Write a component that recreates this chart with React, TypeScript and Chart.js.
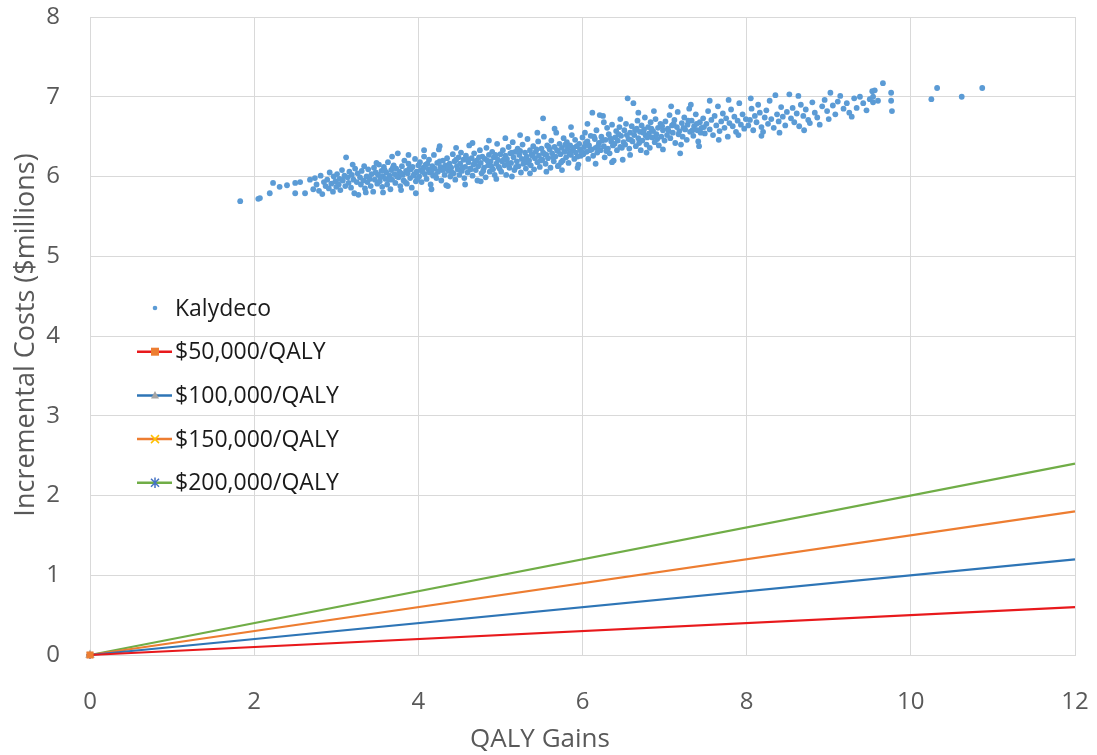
import React, { useEffect, useRef } from 'react';
import { Chart, registerables } from 'chart.js';

Chart.register(...registerables);

// ---- data ----
const xTickValues = [0, 2, 4, 6, 8, 10, 12];
const yTickValues = [0, 1, 2, 3, 4, 5, 6, 7, 8];
const xTitle = 'QALY Gains';
const yTitle = 'Incremental Costs ($millions)';
const scatterName = 'Kalydeco';
const thresholdNames = ['$50,000/QALY', '$100,000/QALY', '$150,000/QALY', '$200,000/QALY'];
const thresholdStartX = 0;
const thresholdStartY = 0;
const thresholdEndX = 12;
const thresholdEndY = [0.6, 1.2, 1.8, 2.4];

const kalydecoPoints: [number, number][] = [
  [1.83,5.69],[2.05,5.72],[2.07,5.73],[2.19,5.79],[2.23,5.92],[2.31,5.87],[2.40,5.89],[2.50,5.92],[2.56,5.93],[2.50,5.79],[2.62,5.79],[2.68,5.96],
  [2.72,5.84],[2.74,5.98],[2.76,5.90],[2.79,5.82],[2.81,6.01],[2.83,5.78],[2.85,5.93],[2.87,5.88],[2.89,5.96],[2.91,5.85],[2.92,6.05],[2.94,5.91],[2.96,5.81],[2.97,6.00],[2.99,5.94],[3.00,5.87],
  [3.01,6.03],[3.03,5.90],[3.04,5.97],[3.05,5.83],[3.07,6.08],[3.08,5.95],[3.10,6.01],[3.11,5.88],[3.12,6.24],[3.14,5.99],[3.15,5.92],[3.16,6.06],[3.18,5.86],[3.19,6.02],[3.21,5.96],[3.22,5.79],[3.23,6.10],[3.25,5.93],[3.26,6.04],[3.27,5.77],[3.29,5.99],[3.30,5.90],[3.31,6.07],[3.33,5.95],[3.34,6.13],[3.35,5.85],[3.37,6.00],[3.38,5.93],[3.39,6.09],[3.41,5.97],[3.42,5.88],[3.43,6.03],[3.45,5.81],[3.46,6.11],[3.47,5.96],[3.48,6.05],[3.50,5.91],
  [3.51,6.02],[3.52,6.15],[3.53,5.94],[3.55,6.07],[3.56,5.87],[3.57,6.00],[3.58,6.12],[3.60,5.97],[3.61,6.05],[3.62,5.90],[3.63,6.18],[3.65,6.01],[3.66,5.84],[3.67,6.08],[3.68,5.96],[3.70,6.14],[3.71,6.03],[3.72,5.92],[3.73,6.10],[3.75,6.29],[3.76,5.99],[3.77,6.06],[3.78,5.88],[3.80,6.13],[3.81,6.02],[3.82,5.95],[3.83,6.20],[3.85,6.07],[3.86,5.91],[3.87,6.04],[3.88,6.16],[3.90,5.98],[3.91,6.09],[3.92,5.86],[3.93,6.12],[3.95,6.03],[3.96,6.22],[3.97,5.94],[3.98,6.06],[4.00,6.14],
  [4.01,6.00],[4.02,6.18],[4.03,6.08],[4.04,5.93],[4.06,6.11],[4.07,6.25],[4.08,6.03],[4.09,6.15],[4.10,5.97],[4.12,6.09],[4.13,6.21],[4.14,6.05],[4.15,5.90],[4.17,6.13],[4.18,6.01],[4.19,6.27],[4.20,6.10],[4.22,5.98],[4.23,6.17],[4.24,6.06],[4.25,6.34],[4.27,6.12],[4.28,5.95],[4.29,6.08],[4.30,6.20],[4.32,6.02],[4.33,6.14],[4.34,5.89],[4.35,6.23],[4.37,6.07],[4.38,6.16],[4.39,6.00],[4.40,6.11],[4.42,6.28],[4.43,6.04],[4.44,6.19],[4.45,5.96],[4.47,6.13],[4.48,6.09],[4.49,6.24],[4.50,6.02],
  [4.51,6.16],[4.52,6.30],[4.53,6.07],[4.55,6.21],[4.56,5.98],[4.57,6.12],[4.58,6.26],[4.60,6.05],[4.61,6.18],[4.62,6.39],[4.63,6.10],[4.65,6.23],[4.66,6.01],[4.67,6.15],[4.68,6.29],[4.70,6.08],[4.71,6.20],[4.72,5.95],[4.73,6.13],[4.75,6.33],[4.76,6.17],[4.77,6.04],[4.78,6.25],[4.80,6.11],[4.81,6.22],[4.82,5.99],[4.83,6.36],[4.85,6.14],[4.86,6.27],[4.87,6.06],[4.88,6.19],[4.90,6.31],[4.91,6.09],[4.92,6.24],[4.93,6.02],[4.95,6.16],[4.96,6.41],[4.97,6.21],[4.98,6.12],[5.00,6.28],
  [5.01,6.06],[5.02,6.19],[5.03,6.33],[5.05,6.14],[5.06,6.26],[5.07,6.02],[5.08,6.22],[5.10,6.37],[5.11,6.11],[5.12,6.29],[5.13,6.17],[5.15,6.43],[5.16,6.24],[5.17,6.08],[5.18,6.31],[5.20,6.19],[5.21,6.35],[5.22,6.13],[5.23,6.27],[5.25,6.05],[5.26,6.22],[5.27,6.40],[5.28,6.16],[5.30,6.30],[5.31,6.10],[5.32,6.25],[5.33,6.47],[5.35,6.20],[5.36,6.33],[5.37,6.14],[5.38,6.28],[5.40,6.38],[5.41,6.09],[5.42,6.23],[5.43,6.31],[5.45,6.18],[5.46,6.44],[5.47,6.26],[5.48,6.12],[5.50,6.35],
  [5.51,6.21],[5.52,6.30],[5.52,6.73],[5.53,6.50],[5.55,6.16],[5.56,6.27],[5.57,6.39],[5.58,6.23],[5.60,6.34],[5.61,6.11],[5.62,6.45],[5.63,6.29],[5.65,6.19],[5.66,6.37],[5.67,6.25],[5.68,6.55],[5.70,6.32],[5.70,6.13],[5.71,6.14],[5.72,6.41],[5.73,6.28],[5.75,6.36],[5.76,6.20],[5.77,6.48],[5.78,6.31],[5.80,6.24],[5.81,6.43],[5.82,6.35],[5.83,6.17],[5.85,6.39],[5.86,6.27],[5.87,6.52],[5.88,6.33],[5.90,6.22],[5.91,6.46],[5.92,6.30],[5.93,6.38],[5.95,6.15],[5.96,6.41],[5.97,6.34],[5.98,6.26],[6.00,6.49],
  [6.01,6.28],[6.02,6.37],[6.03,6.55],[6.05,6.31],[6.06,6.44],[6.07,6.22],[6.08,6.39],[6.10,6.51],[6.11,6.34],[6.12,6.80],[6.13,6.26],[6.15,6.47],[6.16,6.36],[6.17,6.58],[6.18,6.30],[6.20,6.42],[6.21,6.77],[6.22,6.33],[6.23,6.50],[6.25,6.76],[6.26,6.38],[6.27,6.24],[6.28,6.46],[6.30,6.61],[6.31,6.35],[6.32,6.53],[6.33,6.29],[6.35,6.44],[6.36,6.65],[6.37,6.39],[6.38,6.20],[6.40,6.49],[6.41,6.57],[6.42,6.33],[6.43,6.45],[6.45,6.62],[6.46,6.37],[6.47,6.51],[6.49,6.21],[6.50,6.43],
  [6.51,6.58],[6.52,6.40],[6.53,6.66],[6.55,6.98],[6.56,6.47],[6.57,6.35],[6.58,6.55],[6.60,6.63],[6.61,6.44],[6.62,6.92],[6.63,6.52],[6.65,6.38],[6.66,6.60],[6.67,6.70],[6.68,6.48],[6.70,6.56],[6.71,6.33],[6.72,6.64],[6.73,6.45],[6.75,6.59],[6.76,6.74],[6.77,6.51],[6.78,6.40],[6.80,6.62],[6.81,6.54],[6.82,6.36],[6.83,6.68],[6.85,6.49],[6.86,6.57],[6.88,6.43],[6.89,6.72],[6.90,6.53],[6.92,6.61],[6.93,6.39],[6.95,6.66],[6.96,6.50],[6.98,6.58],[7.00,6.45],
  [7.01,6.69],[7.03,6.52],[7.04,6.60],[7.06,6.77],[7.07,6.48],[7.09,6.64],[7.10,6.55],[7.12,6.71],[7.13,6.42],[7.15,6.62],[7.16,6.81],[7.18,6.57],[7.19,6.29],[7.21,6.67],[7.22,6.50],[7.24,6.74],[7.25,6.59],[7.27,6.46],[7.28,6.65],[7.30,6.85],[7.31,6.56],[7.33,6.70],[7.35,6.51],[7.36,6.63],[7.38,6.78],[7.40,6.58],[7.41,6.44],[7.43,6.68],[7.45,6.61],[7.47,6.73],[7.49,6.54],
  [7.51,6.66],[7.53,6.82],[7.55,6.59],[7.57,6.71],[7.59,6.52],[7.61,6.76],[7.63,6.64],[7.65,6.88],[7.67,6.57],[7.69,6.69],[7.71,6.79],[7.73,6.61],[7.75,6.73],[7.77,6.50],[7.79,6.67],[7.81,6.84],[7.83,6.63],[7.85,6.75],[7.87,6.56],[7.89,6.70],[7.91,6.92],[7.93,6.65],[7.95,6.78],[7.97,6.60],[7.99,6.72],
  [8.02,6.64],[8.04,6.71],[8.06,6.85],[8.08,6.58],[8.10,6.76],[8.12,6.68],[8.14,6.90],[8.16,6.80],[8.18,6.62],[8.20,6.56],[8.22,6.74],[8.24,6.83],[8.26,6.66],[8.28,6.95],[8.30,6.72],[8.33,6.61],[8.35,7.02],[8.37,6.78],[8.39,6.69],[8.42,6.87],[8.44,6.75],[8.47,6.64],[8.49,6.81],
  [8.52,7.03],[8.54,6.73],[8.56,6.86],[8.58,6.68],[8.61,6.79],[8.63,7.01],[8.64,6.63],[8.66,6.90],[8.69,6.76],[8.72,6.84],[8.75,6.71],[8.77,6.67],[8.80,6.93],[8.83,6.80],[8.86,6.74],[8.89,6.65],[8.92,6.88],[8.95,6.96],[8.98,6.82],
  [9.02,7.05],[9.05,6.89],[9.08,6.78],[9.11,6.94],[9.14,7.01],[9.18,6.85],[9.22,6.92],[9.25,6.80],[9.28,6.75],[9.31,6.98],[9.34,6.86],[9.38,7.00],[9.42,6.92],[9.46,6.83],[9.50,6.97],[9.53,7.07],[9.54,6.93],[9.54,7.00],[9.56,7.08],
  [9.60,6.95],[9.66,7.17],[9.76,7.05],[9.76,6.95],[9.77,6.82],[10.25,6.97],[10.32,7.11],[10.62,7.00],[10.87,7.11],
  [3.54,5.99],[3.59,6.08],[3.64,5.96],[3.69,6.11],[3.74,6.00],[3.79,6.04],[3.84,5.93],[3.89,6.10],[3.94,6.01],[3.99,5.97],
  [4.05,6.06],[4.11,6.16],[4.16,6.07],[4.21,6.02],[4.26,6.19],[4.31,6.09],[4.36,6.12],[4.41,6.05],[4.46,6.21],[4.54,6.11],[4.59,6.22],[4.64,6.09],[4.69,6.18],[4.74,6.24],[4.79,6.07],[4.84,6.20],[4.89,6.13],[4.94,6.27],[4.99,6.10],
  [5.04,6.21],[5.09,6.16],[5.14,6.30],[5.19,6.12],[5.24,6.32],[5.29,6.21],[5.34,6.17],[5.39,6.26],[5.44,6.34],[5.49,6.20],[5.54,6.28],[5.59,6.37],[5.64,6.24],[5.69,6.33],[5.74,6.18],[5.79,6.40],[5.84,6.29],[5.89,6.36],[5.94,6.25],[5.99,6.31],
  [6.04,6.42],[6.09,6.33],[6.14,6.50],[6.19,6.38],[6.24,6.45],[6.29,6.32],[6.34,6.48],[6.39,6.41],[6.44,6.53],[6.48,6.36],[6.54,6.52],[6.59,6.46],[6.64,6.58],[6.69,6.42],[6.74,6.55],[6.79,6.49],[6.84,6.60],[6.91,6.47],[6.97,6.63],
  [7.05,6.57],[7.11,6.66],[7.17,6.53],[7.23,6.61],[7.29,6.70],[7.34,6.58],[7.39,6.66],[7.44,6.55],[7.48,6.62],
  [3.20,6.15],[3.36,5.80],[3.49,6.17],[3.57,5.80],[3.68,6.25],[3.79,5.83],[3.88,6.27],[3.97,5.79],[4.07,6.33],[4.16,5.84],[4.26,6.38],[4.36,5.88],[4.46,6.36],[4.57,5.90],[4.66,6.42],[4.76,5.94],[4.86,6.45],[4.95,5.97],[5.06,6.48],[5.14,6.00],[5.24,6.52],[5.36,6.04],[5.45,6.55],[5.56,6.06],[5.66,6.60],[5.75,6.08],[5.86,6.62],[5.94,6.11],[6.06,6.66],[6.16,6.16],[6.26,6.68],[6.36,6.18],[6.46,6.72],[6.58,6.27],[6.68,6.80],[6.78,6.30],[6.87,6.82],[6.98,6.34],[7.08,6.88],[7.20,6.40],[7.32,6.90],[7.42,6.38],[7.55,6.95],[7.66,6.46],[7.78,6.96],[7.90,6.52],[8.05,6.98],[8.18,6.51],[8.40,6.55],[8.70,6.58],[9.00,6.72]
];

// ---- styles ----
const scatterColor = '#5B9BD5';
const lineColors = ['#E8191C', '#2E75B6', '#ED7D31', '#70AD47'];
const markerColors = ['#ED7D31', '#A5A5A5', '#FFC000', '#4472C4'];
const markerStyles = ['rect', 'triangle', 'crossRot', 'star'];
const fontFamily = '"Open Sans", "Liberation Sans", sans-serif';
const gridColor = '#D9D9D9';
const textGrey = '#595959';

function drawMarker(ctx: CanvasRenderingContext2D, style: string, color: string, x: number, y: number, r: number) {
  ctx.save();
  ctx.fillStyle = color;
  ctx.strokeStyle = color;
  ctx.lineWidth = 1.5;
  ctx.beginPath();
  if (style === 'rect') {
    ctx.rect(x - r, y - r, 2 * r, 2 * r);
    ctx.fill();
  } else if (style === 'triangle') {
    ctx.moveTo(x, y - r * 1.1);
    ctx.lineTo(x + r, y + r * 0.8);
    ctx.lineTo(x - r, y + r * 0.8);
    ctx.closePath();
    ctx.fill();
  } else if (style === 'crossRot') {
    ctx.moveTo(x - r, y - r); ctx.lineTo(x + r, y + r);
    ctx.moveTo(x + r, y - r); ctx.lineTo(x - r, y + r);
    ctx.stroke();
  } else if (style === 'star') {
    ctx.moveTo(x - r, y - r); ctx.lineTo(x + r, y + r);
    ctx.moveTo(x + r, y - r); ctx.lineTo(x - r, y + r);
    ctx.moveTo(x, y - r * 1.3); ctx.lineTo(x, y + r * 1.3);
    ctx.stroke();
  }
  ctx.restore();
}

const zeroScalePadding = (s: any) => {
  s.paddingTop = 0;
  s.paddingBottom = 0;
  s.paddingLeft = 0;
  s.paddingRight = 0;
};

export default function App() {
  const canvasRef = useRef<HTMLCanvasElement>(null);

  useEffect(() => {
    if (!canvasRef.current) return;

    const overlayPlugin = {
      id: 'overlay',
      afterDraw(chart: any) {
        const ctx: CanvasRenderingContext2D = chart.ctx;
        ctx.save();
        // axis titles
        ctx.fillStyle = textGrey;
        ctx.textAlign = 'center';
        ctx.textBaseline = 'middle';
        ctx.font = `26px ${fontFamily}`;
        ctx.fillText(xTitle, 540, 740);
        ctx.save();
        ctx.translate(26, 335);
        ctx.rotate(-Math.PI / 2);
        ctx.font = `27px ${fontFamily}`;
        ctx.fillText(yTitle, 0, 0);
        ctx.restore();

        // legend
        const lx0 = 137, lx1 = 172, lmid = 155, tx = 175;
        const top = 308, step = 43.7;
        ctx.font = `23px ${fontFamily}`;
        ctx.textAlign = 'left';
        ctx.beginPath();
        ctx.fillStyle = scatterColor;
        ctx.arc(lmid, top, 2.3, 0, Math.PI * 2);
        ctx.fill();
        ctx.fillStyle = '#1a1a1a';
        ctx.fillText(scatterName, tx, top + 1);
        thresholdNames.forEach((name, i) => {
          const y = top + step * (i + 1);
          ctx.strokeStyle = lineColors[i];
          ctx.lineWidth = 2.5;
          ctx.beginPath();
          ctx.moveTo(lx0, y);
          ctx.lineTo(lx1, y);
          ctx.stroke();
          drawMarker(ctx, markerStyles[i], markerColors[i], lmid, y, 4);
          ctx.fillStyle = '#1a1a1a';
          ctx.fillText(name, tx, y + 1);
        });
        ctx.restore();
      }
    };

    const lineDatasets = thresholdNames.map((name, i) => ({
      label: name,
      data: [
        { x: thresholdStartX, y: thresholdStartY },
        { x: thresholdEndX, y: thresholdEndY[i] }
      ],
      showLine: true,
      borderColor: lineColors[i],
      borderWidth: 2.2,
      pointRadius: [4, 0],
      pointStyle: markerStyles[i] as any,
      pointBackgroundColor: markerColors[i],
      pointBorderColor: markerColors[i],
      pointBorderWidth: 1.5,
      clip: false as any,
      order: 1
    }));

    const chart = new Chart(canvasRef.current, {
      type: 'scatter',
      data: {
        datasets: [
          {
            label: scatterName,
            data: kalydecoPoints.map(([x, y]) => ({ x, y })),
            pointRadius: 2.9,
            pointBackgroundColor: scatterColor,
            pointBorderWidth: 0,
            showLine: false,
            order: 2
          },
          ...lineDatasets
        ] as any
      },
      options: {
        animation: false,
        responsive: true,
        maintainAspectRatio: false,
        layout: { padding: { left: 0, right: 22, top: 17, bottom: 0 } },
        plugins: {
          legend: { display: false },
          tooltip: { enabled: false },
          title: { display: false }
        },
        scales: {
          x: {
            type: 'linear',
            min: 0,
            max: 12,
            afterFit: (s: any) => { s.height = 100; zeroScalePadding(s); },
            afterBuildTicks: (s: any) => { s.ticks = xTickValues.map(v => ({ value: v })); },
            grid: { color: gridColor, lineWidth: 1, drawTicks: false },
            border: { display: true, color: gridColor },
            ticks: {
              padding: 33,
              color: textGrey,
              font: { family: fontFamily, size: 24 },
              callback: (v: any) => String(v)
            }
          },
          y: {
            type: 'linear',
            min: 0,
            max: 8,
            afterFit: (s: any) => { s.width = 90; zeroScalePadding(s); },
            afterBuildTicks: (s: any) => { s.ticks = yTickValues.map(v => ({ value: v })); },
            grid: { color: gridColor, lineWidth: 1, drawTicks: false },
            border: { display: true, color: gridColor },
            ticks: {
              padding: 30,
              color: textGrey,
              font: { family: fontFamily, size: 24 },
              callback: (v: any) => String(v)
            }
          }
        }
      },
      plugins: [overlayPlugin]
    });

    return () => chart.destroy();
  }, []);

  return (
    <div style={{ position: 'fixed', left: 0, top: 0, width: 1097, height: 755, background: '#ffffff' }}>
      <canvas ref={canvasRef} />
    </div>
  );
}
